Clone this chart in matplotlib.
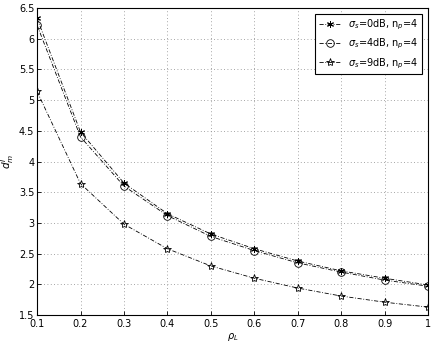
import matplotlib
matplotlib.use("Agg")
import matplotlib.pyplot as plt

rho = [0.1, 0.2, 0.3, 0.4, 0.5, 0.6, 0.7, 0.8, 0.9, 1.0]
d_0db = [6.33, 4.48, 3.65, 3.15, 2.82, 2.58, 2.38, 2.22, 2.10, 1.99]
d_4db = [6.22, 4.40, 3.60, 3.12, 2.78, 2.55, 2.35, 2.20, 2.07, 1.97]
d_9db = [5.14, 3.64, 2.98, 2.58, 2.30, 2.10, 1.94, 1.81, 1.71, 1.63]
labels = [r'$\sigma_s$=0dB, n$_p$=4', r'$\sigma_s$=4dB, n$_p$=4', r'$\sigma_s$=9dB, n$_p$=4']

fig = plt.figure(figsize=(4.36, 3.44), dpi=100)
ax = fig.add_axes([0.085, 0.084, 0.897, 0.893])

ax.plot(rho, d_0db, color='black', linestyle=(0, (5, 2, 1, 2)), linewidth=0.6,
        marker=(6, 2, 0), markersize=5, markeredgewidth=0.7, label=labels[0])
ax.plot(rho, d_4db, color='black', linestyle=(0, (5, 2, 1, 2)), linewidth=0.6,
        marker='o', markersize=5.5, markerfacecolor='none', markeredgewidth=0.6, label=labels[1])
ax.plot(rho, d_9db, color='black', linestyle=(0, (5, 2, 1, 2)), linewidth=0.6,
        marker='*', markersize=6, markerfacecolor='none', markeredgewidth=0.6, label=labels[2])

ax.set_xlim(0.1, 1)
ax.set_ylim(1.5, 6.5)
ax.set_xticks([0.1, 0.2, 0.3, 0.4, 0.5, 0.6, 0.7, 0.8, 0.9, 1])
ax.set_xticklabels(['0.1', '0.2', '0.3', '0.4', '0.5', '0.6', '0.7', '0.8', '0.9', '1'])
ax.set_yticks([1.5, 2, 2.5, 3, 3.5, 4, 4.5, 5, 5.5, 6, 6.5])
ax.set_yticklabels(['1.5', '2', '2.5', '3', '3.5', '4', '4.5', '5', '5.5', '6', '6.5'])
ax.tick_params(direction='in', labelsize=7, length=3, width=0.6, pad=2)
ax.tick_params(axis='x', pad=3)
ax.grid(True, linestyle=(0, (1, 3)), color='#888888', linewidth=0.6)
for s in ax.spines.values():
    s.set_linewidth(0.8)

ax.set_xlabel(r'$\rho_L$', fontsize=7, labelpad=1)
ax.set_ylabel(r'$d_m^I$', fontsize=7.5)
ax.yaxis.set_label_coords(-0.055, 0.5)

leg = ax.legend(loc='upper right', fontsize=7, fancybox=False, framealpha=1,
                edgecolor='black', handlelength=2.2, borderaxespad=0.6)
leg.get_frame().set_linewidth(0.8)

fig.savefig('out.png', dpi=100)
